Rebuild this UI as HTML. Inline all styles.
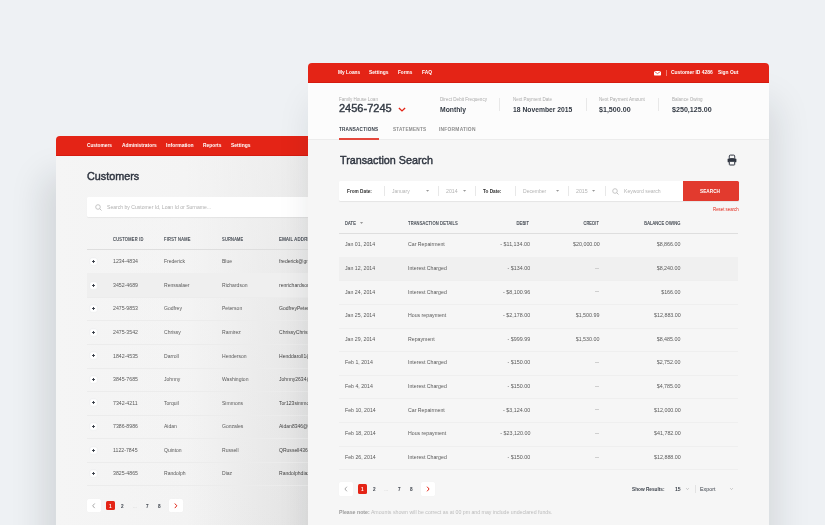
<!DOCTYPE html>
<html><head><meta charset="utf-8"><title>Loans</title>
<style>
*{box-sizing:border-box;margin:0;padding:0}
html,body{width:825px;height:525px;overflow:hidden}
body{background:#eef1f4;font-family:"Liberation Sans",sans-serif;position:relative;color:#555}
.a{position:absolute;white-space:nowrap;line-height:1}
.b{position:absolute}
.ic{position:absolute;overflow:visible}
.panel{position:absolute;border-radius:4px 4px 0 0;overflow:hidden}
#lp{left:56px;top:136px;width:270px;height:420px;background:#f3f3f3;box-shadow:-12px 40px 34px rgba(20,30,40,.13)}
#rp{left:308px;top:63px;width:461px;height:480px;background:#f6f6f6;box-shadow:6px 40px 36px rgba(20,30,40,.125)}
.hdr{position:absolute;left:0;top:0;right:0;height:20px;background:#e42416;border-bottom:1px solid #d51b10}
.lpbody{position:absolute;left:0;top:20px;right:0;bottom:0;background:linear-gradient(180deg,rgba(245,245,245,.55),rgba(245,245,245,0)),linear-gradient(90deg,#f5f5f5 0,#f3f3f3 130px,#e1e1e1 252px)}
.rptop{position:absolute;left:0;top:20px;right:0;height:57px;background:#fcfcfc;border-bottom:1px solid #ececec}
</style></head>
<body>
<div class="panel" id="lp"><div class="hdr"></div><div class="lpbody"></div></div>
<span class="a" style="top:143px;font-size:5.81px;color:#fff;font-weight:700;left:86.90px;transform:scaleX(0.824);transform-origin:0 50%;">Customers</span>
<span class="a" style="top:143px;font-size:5.81px;color:#fff;font-weight:700;left:121.50px;transform:scaleX(0.845);transform-origin:0 50%;">Administrators</span>
<span class="a" style="top:143px;font-size:5.81px;color:#fff;font-weight:700;left:165.80px;transform:scaleX(0.867);transform-origin:0 50%;">Information</span>
<span class="a" style="top:143px;font-size:5.81px;color:#fff;font-weight:700;left:202.80px;transform:scaleX(0.838);transform-origin:0 50%;">Reports</span>
<span class="a" style="top:143px;font-size:5.81px;color:#fff;font-weight:700;left:230.60px;transform:scaleX(0.855);transform-origin:0 50%;">Settings</span>
<span class="a" style="top:171px;font-size:11.34px;color:#2f3540;-webkit-text-stroke:0.45px #2f3540;left:87.20px;transform:scaleX(0.954);transform-origin:0 50%;">Customers</span>
<div class="b" style="left:87px;top:197px;width:240px;height:20px;background:#fff;box-shadow:0 1px 1px rgba(0,0,0,.06);border-radius:1.5px"></div>
<svg class="ic" style="left:94.6px;top:203.6px" width="7" height="7" viewBox="0 0 7 7"><circle cx="3" cy="3" r="2.3" fill="none" stroke="#b9b9b9" stroke-width=".8"/><path d="M4.7 4.7L6.5 6.5" stroke="#b9b9b9" stroke-width=".9"/></svg>
<span class="a" style="top:205px;font-size:5.38px;color:#b0b0b0;left:106.80px;transform:scaleX(0.946);transform-origin:0 50%;">Search by Customer Id, Loan Id or Surname...</span>
<span class="a" style="top:238px;font-size:4.51px;color:#3d434c;-webkit-text-stroke:0.15px #3d434c;letter-spacing:0.3px;left:112.80px;transform:scaleX(0.882);transform-origin:0 50%;">CUSTOMER ID</span>
<span class="a" style="top:238px;font-size:4.51px;color:#3d434c;-webkit-text-stroke:0.15px #3d434c;letter-spacing:0.3px;left:163.80px;transform:scaleX(0.883);transform-origin:0 50%;">FIRST NAME</span>
<span class="a" style="top:238px;font-size:4.51px;color:#3d434c;-webkit-text-stroke:0.15px #3d434c;letter-spacing:0.3px;left:222.00px;transform:scaleX(0.872);transform-origin:0 50%;">SURNAME</span>
<span class="a" style="top:238px;font-size:4.51px;color:#3d434c;-webkit-text-stroke:0.15px #3d434c;letter-spacing:0.3px;left:279.30px;transform:scaleX(0.950);transform-origin:0 50%;">EMAIL ADDRESS</span>
<div class="b" style="left:87px;top:249px;width:240px;height:1px;background:#dedede;"></div>
<div class="b" style="left:87px;top:273px;width:240px;height:1px;background:#ececec;"></div>
<svg class="ic" style="left:90px;top:258px" width="7" height="7" viewBox="0 0 7 7"><rect x="-.1" y="-.1" width="7.3" height="7.3" rx="2" fill="#fff" stroke="#e6e8eb" stroke-width=".5"/><path d="M2.1 3.5H4.9M3.5 2.1V4.9" stroke="#343a44" stroke-width="1"/></svg>
<span class="a" style="top:259px;font-size:5.81px;color:#5a5a5a;left:112.80px;transform:scaleX(0.900);transform-origin:0 50%;">1234-4834</span>
<span class="a" style="top:259px;font-size:5.81px;color:#5a5a5a;left:163.80px;transform:scaleX(0.870);transform-origin:0 50%;">Frederick</span>
<span class="a" style="top:259px;font-size:5.81px;color:#5a5a5a;left:222.00px;transform:scaleX(0.870);transform-origin:0 50%;">Blue</span>
<span class="a" style="top:259px;font-size:5.81px;color:#444;left:279.30px;transform:scaleX(0.870);transform-origin:0 50%;">frederick@gmail.com</span>
<div class="b" style="left:87px;top:273px;width:240px;height:24px;background:#efefef;"></div>
<div class="b" style="left:87px;top:297px;width:240px;height:1px;background:#ececec;"></div>
<svg class="ic" style="left:90px;top:282px" width="7" height="7" viewBox="0 0 7 7"><rect x="-.1" y="-.1" width="7.3" height="7.3" rx="2" fill="#fff" stroke="#e6e8eb" stroke-width=".5"/><path d="M2.1 3.5H4.9M3.5 2.1V4.9" stroke="#343a44" stroke-width="1"/></svg>
<span class="a" style="top:283px;font-size:5.81px;color:#5a5a5a;left:112.80px;transform:scaleX(0.900);transform-origin:0 50%;">3452-4689</span>
<span class="a" style="top:283px;font-size:5.81px;color:#5a5a5a;left:163.80px;transform:scaleX(0.870);transform-origin:0 50%;">Renssalaer</span>
<span class="a" style="top:283px;font-size:5.81px;color:#5a5a5a;left:222.00px;transform:scaleX(0.870);transform-origin:0 50%;">Richardson</span>
<span class="a" style="top:283px;font-size:5.81px;color:#444;left:279.30px;transform:scaleX(0.870);transform-origin:0 50%;">renrichardson@gmail.com</span>
<div class="b" style="left:87px;top:320px;width:240px;height:1px;background:#ececec;"></div>
<svg class="ic" style="left:90px;top:305px" width="7" height="7" viewBox="0 0 7 7"><rect x="-.1" y="-.1" width="7.3" height="7.3" rx="2" fill="#fff" stroke="#e6e8eb" stroke-width=".5"/><path d="M2.1 3.5H4.9M3.5 2.1V4.9" stroke="#343a44" stroke-width="1"/></svg>
<span class="a" style="top:306px;font-size:5.81px;color:#5a5a5a;left:112.80px;transform:scaleX(0.900);transform-origin:0 50%;">2475-9853</span>
<span class="a" style="top:306px;font-size:5.81px;color:#5a5a5a;left:163.80px;transform:scaleX(0.870);transform-origin:0 50%;">Godfrey</span>
<span class="a" style="top:306px;font-size:5.81px;color:#5a5a5a;left:222.00px;transform:scaleX(0.870);transform-origin:0 50%;">Peterson</span>
<span class="a" style="top:306px;font-size:5.81px;color:#444;left:279.30px;transform:scaleX(0.870);transform-origin:0 50%;">GodfreyPeterson@gmail.com</span>
<div class="b" style="left:87px;top:344px;width:240px;height:1px;background:#ececec;"></div>
<svg class="ic" style="left:90px;top:329px" width="7" height="7" viewBox="0 0 7 7"><rect x="-.1" y="-.1" width="7.3" height="7.3" rx="2" fill="#fff" stroke="#e6e8eb" stroke-width=".5"/><path d="M2.1 3.5H4.9M3.5 2.1V4.9" stroke="#343a44" stroke-width="1"/></svg>
<span class="a" style="top:330px;font-size:5.81px;color:#5a5a5a;left:112.80px;transform:scaleX(0.900);transform-origin:0 50%;">2475-3542</span>
<span class="a" style="top:330px;font-size:5.81px;color:#5a5a5a;left:163.80px;transform:scaleX(0.870);transform-origin:0 50%;">Chrissy</span>
<span class="a" style="top:330px;font-size:5.81px;color:#5a5a5a;left:222.00px;transform:scaleX(0.870);transform-origin:0 50%;">Ramirez</span>
<span class="a" style="top:330px;font-size:5.81px;color:#444;left:279.30px;transform:scaleX(0.870);transform-origin:0 50%;">ChrissyChrissy@gmail.com</span>
<div class="b" style="left:87px;top:368px;width:240px;height:1px;background:#ececec;"></div>
<svg class="ic" style="left:90px;top:352px" width="7" height="7" viewBox="0 0 7 7"><rect x="-.1" y="-.1" width="7.3" height="7.3" rx="2" fill="#fff" stroke="#e6e8eb" stroke-width=".5"/><path d="M2.1 3.5H4.9M3.5 2.1V4.9" stroke="#343a44" stroke-width="1"/></svg>
<span class="a" style="top:354px;font-size:5.81px;color:#5a5a5a;left:112.80px;transform:scaleX(0.900);transform-origin:0 50%;">1842-4535</span>
<span class="a" style="top:354px;font-size:5.81px;color:#5a5a5a;left:163.80px;transform:scaleX(0.870);transform-origin:0 50%;">Darroll</span>
<span class="a" style="top:354px;font-size:5.81px;color:#5a5a5a;left:222.00px;transform:scaleX(0.870);transform-origin:0 50%;">Henderson</span>
<span class="a" style="top:354px;font-size:5.81px;color:#444;left:279.30px;transform:scaleX(0.870);transform-origin:0 50%;">Henddaroll1@gmail.com</span>
<div class="b" style="left:87px;top:391px;width:240px;height:1px;background:#ececec;"></div>
<svg class="ic" style="left:90px;top:376px" width="7" height="7" viewBox="0 0 7 7"><rect x="-.1" y="-.1" width="7.3" height="7.3" rx="2" fill="#fff" stroke="#e6e8eb" stroke-width=".5"/><path d="M2.1 3.5H4.9M3.5 2.1V4.9" stroke="#343a44" stroke-width="1"/></svg>
<span class="a" style="top:377px;font-size:5.81px;color:#5a5a5a;left:112.80px;transform:scaleX(0.900);transform-origin:0 50%;">3845-7685</span>
<span class="a" style="top:377px;font-size:5.81px;color:#5a5a5a;left:163.80px;transform:scaleX(0.870);transform-origin:0 50%;">Johnny</span>
<span class="a" style="top:377px;font-size:5.81px;color:#5a5a5a;left:222.00px;transform:scaleX(0.870);transform-origin:0 50%;">Washington</span>
<span class="a" style="top:377px;font-size:5.81px;color:#444;left:279.30px;transform:scaleX(0.870);transform-origin:0 50%;">Johnny2634@gmail.com</span>
<div class="b" style="left:87px;top:415px;width:240px;height:1px;background:#ececec;"></div>
<svg class="ic" style="left:90px;top:399px" width="7" height="7" viewBox="0 0 7 7"><rect x="-.1" y="-.1" width="7.3" height="7.3" rx="2" fill="#fff" stroke="#e6e8eb" stroke-width=".5"/><path d="M2.1 3.5H4.9M3.5 2.1V4.9" stroke="#343a44" stroke-width="1"/></svg>
<span class="a" style="top:401px;font-size:5.81px;color:#5a5a5a;left:112.80px;transform:scaleX(0.900);transform-origin:0 50%;">7342-4211</span>
<span class="a" style="top:401px;font-size:5.81px;color:#5a5a5a;left:163.80px;transform:scaleX(0.870);transform-origin:0 50%;">Torquil</span>
<span class="a" style="top:401px;font-size:5.81px;color:#5a5a5a;left:222.00px;transform:scaleX(0.870);transform-origin:0 50%;">Simmons</span>
<span class="a" style="top:401px;font-size:5.81px;color:#444;left:279.30px;transform:scaleX(0.870);transform-origin:0 50%;">Tor123simmons@gmail.com</span>
<div class="b" style="left:87px;top:438px;width:240px;height:1px;background:#ececec;"></div>
<svg class="ic" style="left:90px;top:423px" width="7" height="7" viewBox="0 0 7 7"><rect x="-.1" y="-.1" width="7.3" height="7.3" rx="2" fill="#fff" stroke="#e6e8eb" stroke-width=".5"/><path d="M2.1 3.5H4.9M3.5 2.1V4.9" stroke="#343a44" stroke-width="1"/></svg>
<span class="a" style="top:424px;font-size:5.81px;color:#5a5a5a;left:112.80px;transform:scaleX(0.900);transform-origin:0 50%;">7386-8986</span>
<span class="a" style="top:424px;font-size:5.81px;color:#5a5a5a;left:163.80px;transform:scaleX(0.870);transform-origin:0 50%;">Aidan</span>
<span class="a" style="top:424px;font-size:5.81px;color:#5a5a5a;left:222.00px;transform:scaleX(0.870);transform-origin:0 50%;">Gonzales</span>
<span class="a" style="top:424px;font-size:5.81px;color:#444;left:279.30px;transform:scaleX(0.870);transform-origin:0 50%;">Aidan8346@gmail.com</span>
<div class="b" style="left:87px;top:462px;width:240px;height:1px;background:#ececec;"></div>
<svg class="ic" style="left:90px;top:447px" width="7" height="7" viewBox="0 0 7 7"><rect x="-.1" y="-.1" width="7.3" height="7.3" rx="2" fill="#fff" stroke="#e6e8eb" stroke-width=".5"/><path d="M2.1 3.5H4.9M3.5 2.1V4.9" stroke="#343a44" stroke-width="1"/></svg>
<span class="a" style="top:448px;font-size:5.81px;color:#5a5a5a;left:112.80px;transform:scaleX(0.900);transform-origin:0 50%;">1122-7845</span>
<span class="a" style="top:448px;font-size:5.81px;color:#5a5a5a;left:163.80px;transform:scaleX(0.870);transform-origin:0 50%;">Quinton</span>
<span class="a" style="top:448px;font-size:5.81px;color:#5a5a5a;left:222.00px;transform:scaleX(0.870);transform-origin:0 50%;">Russell</span>
<span class="a" style="top:448px;font-size:5.81px;color:#444;left:279.30px;transform:scaleX(0.870);transform-origin:0 50%;">QRussell436@gmail.com</span>
<div class="b" style="left:87px;top:485px;width:240px;height:1px;background:#ececec;"></div>
<svg class="ic" style="left:90px;top:470px" width="7" height="7" viewBox="0 0 7 7"><rect x="-.1" y="-.1" width="7.3" height="7.3" rx="2" fill="#fff" stroke="#e6e8eb" stroke-width=".5"/><path d="M2.1 3.5H4.9M3.5 2.1V4.9" stroke="#343a44" stroke-width="1"/></svg>
<span class="a" style="top:471px;font-size:5.81px;color:#5a5a5a;left:112.80px;transform:scaleX(0.900);transform-origin:0 50%;">3825-4865</span>
<span class="a" style="top:471px;font-size:5.81px;color:#5a5a5a;left:163.80px;transform:scaleX(0.870);transform-origin:0 50%;">Randolph</span>
<span class="a" style="top:471px;font-size:5.81px;color:#5a5a5a;left:222.00px;transform:scaleX(0.870);transform-origin:0 50%;">Diaz</span>
<span class="a" style="top:471px;font-size:5.81px;color:#444;left:279.30px;transform:scaleX(0.870);transform-origin:0 50%;">Randolphdiaz@gmail.com</span>
<div class="b" style="left:87px;top:498.9px;width:13.5px;height:13.5px;background:#fff;border-radius:1.5px;box-shadow:0 0 1px rgba(0,0,0,.06)"></div>
<svg class="ic" style="left:87px;top:498.9px" width="13.5" height="13.5" viewBox="0 0 13.5 13.5"><path d="M7.7 4.5L5.7 6.8L7.7 9.1" fill="none" stroke="#999" stroke-width=".85"/></svg>
<div class="b" style="left:105.7px;top:501.04999999999995px;width:9.2px;height:9.2px;background:#e42416;border-radius:1.5px"></div>
<span class="a" style="top:504px;font-size:5.23px;color:#fff;font-weight:700;left:109.20px;transform:scaleX(0.900);transform-origin:0 50%;">1</span>
<span class="a" style="top:504px;font-size:5.23px;color:#3d434c;font-weight:700;left:121.20px;transform:scaleX(0.900);transform-origin:0 50%;">2</span>
<span class="a" style="top:505px;font-size:4.6px;color:#c4c4c4;left:133.00px;">...</span>
<span class="a" style="top:504px;font-size:5.23px;color:#3d434c;font-weight:700;left:145.90px;transform:scaleX(0.900);transform-origin:0 50%;">7</span>
<span class="a" style="top:504px;font-size:5.23px;color:#3d434c;font-weight:700;left:158.00px;transform:scaleX(0.900);transform-origin:0 50%;">8</span>
<div class="b" style="left:169px;top:498.9px;width:13.5px;height:13.5px;background:#fff;border-radius:1.5px;box-shadow:0 0 1px rgba(0,0,0,.06)"></div>
<svg class="ic" style="left:169px;top:498.9px" width="13.5" height="13.5" viewBox="0 0 13.5 13.5"><path d="M5.8 4.5L7.8 6.8L5.8 9.1" fill="none" stroke="#e42416" stroke-width="1"/></svg>
<div class="panel" id="rp"><div class="hdr"></div><div class="rptop"></div></div>
<span class="a" style="top:70px;font-size:5.96px;color:#fff;font-weight:700;left:337.90px;transform:scaleX(0.808);transform-origin:0 50%;">My Loans</span>
<span class="a" style="top:70px;font-size:5.96px;color:#fff;font-weight:700;left:369.30px;transform:scaleX(0.825);transform-origin:0 50%;">Settings</span>
<span class="a" style="top:70px;font-size:5.96px;color:#fff;font-weight:700;left:398.00px;transform:scaleX(0.785);transform-origin:0 50%;">Forms</span>
<span class="a" style="top:70px;font-size:5.96px;color:#fff;font-weight:700;left:422.00px;transform:scaleX(0.816);transform-origin:0 50%;">FAQ</span>
<span class="a" style="top:70px;font-size:5.96px;color:#fff;font-weight:700;left:671.00px;transform:scaleX(0.832);transform-origin:0 50%;">Customer ID 4286</span>
<span class="a" style="top:70px;font-size:5.96px;color:#fff;font-weight:700;left:718.00px;transform:scaleX(0.818);transform-origin:0 50%;">Sign Out</span>
<svg class="ic" style="left:653.5px;top:70.8px" width="7" height="4.4" viewBox="0 0 7 4.4"><rect x="0" y="0" width="7" height="4.4" rx=".6" fill="#fff"/><path d="M0.2 0.3L3.5 2.6L6.8 0.3" fill="none" stroke="#e42416" stroke-width=".7"/></svg>
<div class="b" style="left:665.5px;top:70px;width:0.7px;height:5.5px;background:rgba(255,255,255,.4);"></div>
<span class="a" style="top:98px;font-size:4.8px;color:#ababab;left:338.90px;transform:scaleX(0.941);transform-origin:0 50%;">Family House Loan</span>
<span class="a" style="top:103px;font-size:10.76px;color:#333a44;-webkit-text-stroke:0.4px #333a44;left:339.30px;transform:scaleX(1.024);transform-origin:0 50%;">2456-7245</span>
<svg class="ic" style="left:397.5px;top:107.2px" width="8" height="5" viewBox="0 0 8 5"><path d="M0.9 0.9L4 3.9L7.1 0.9" fill="none" stroke="#e42416" stroke-width="1.35"/></svg>
<span class="a" style="top:98px;font-size:4.8px;color:#ababab;left:439.70px;transform:scaleX(0.958);transform-origin:0 50%;">Direct Debit Frequency</span>
<span class="a" style="top:107px;font-size:6.83px;color:#333a44;font-weight:700;left:440.00px;transform:scaleX(0.993);transform-origin:0 50%;">Monthly</span>
<div class="b" style="left:499.3px;top:98px;width:0.7px;height:13px;background:#e8e8e8;"></div>
<span class="a" style="top:98px;font-size:4.8px;color:#ababab;left:513.30px;transform:scaleX(0.937);transform-origin:0 50%;">Next Payment Date</span>
<span class="a" style="top:107px;font-size:6.83px;color:#333a44;font-weight:700;left:513.30px;transform:scaleX(0.990);transform-origin:0 50%;">18 November 2015</span>
<div class="b" style="left:585.5px;top:98px;width:0.7px;height:13px;background:#e8e8e8;"></div>
<span class="a" style="top:98px;font-size:4.8px;color:#ababab;left:599.20px;transform:scaleX(0.959);transform-origin:0 50%;">Next Payment Amount</span>
<span class="a" style="top:107px;font-size:6.83px;color:#333a44;font-weight:700;left:599.20px;transform:scaleX(1.040);transform-origin:0 50%;">$1,500.00</span>
<div class="b" style="left:657.7px;top:98px;width:0.7px;height:13px;background:#e8e8e8;"></div>
<span class="a" style="top:98px;font-size:4.8px;color:#ababab;left:671.70px;transform:scaleX(0.948);transform-origin:0 50%;">Balance Owing</span>
<span class="a" style="top:107px;font-size:6.83px;color:#333a44;font-weight:700;left:671.70px;transform:scaleX(1.043);transform-origin:0 50%;">$250,125.00</span>
<span class="a" style="top:127px;font-size:5.52px;color:#333a44;font-weight:700;letter-spacing:0.25px;left:339.00px;transform:scaleX(0.841);transform-origin:0 50%;">TRANSACTIONS</span>
<span class="a" style="top:127px;font-size:5.52px;color:#8c8c8c;font-weight:700;letter-spacing:0.25px;left:392.90px;transform:scaleX(0.854);transform-origin:0 50%;">STATEMENTS</span>
<span class="a" style="top:127px;font-size:5.52px;color:#8c8c8c;font-weight:700;letter-spacing:0.25px;left:439.30px;transform:scaleX(0.889);transform-origin:0 50%;">INFORMATION</span>
<div class="b" style="left:338.8px;top:138px;width:40px;height:2px;background:#e4473c;"></div>
<span class="a" style="top:154px;font-size:11.63px;color:#2f3540;-webkit-text-stroke:0.45px #2f3540;left:339.50px;transform:scaleX(0.926);transform-origin:0 50%;">Transaction Search</span>
<svg class="ic" style="left:726.5px;top:153.5px" width="10" height="12" viewBox="0 0 10 12"><rect x="2.3" y="1.1" width="5.4" height="3.6" rx="1" fill="none" stroke="#2f3540" stroke-width="1"/><rect x="0.6" y="4.5" width="8.8" height="3.8" rx="0.9" fill="#2f3540"/><rect x="2.3" y="7.3" width="5.4" height="3.7" rx="0.6" fill="#f6f6f6" stroke="#2f3540" stroke-width="1"/></svg>
<div class="b" style="left:339px;top:181px;width:400px;height:20px;background:#fff;box-shadow:0 1px 1px rgba(0,0,0,.07);border-radius:1.5px"></div>
<span class="a" style="top:189px;font-size:5.81px;color:#333;font-weight:700;left:347.00px;transform:scaleX(0.815);transform-origin:0 50%;">From Date:</span>
<div class="b" style="left:383.5px;top:186px;width:0.7px;height:10px;background:#e8e8e8;"></div>
<div class="b" style="left:437.8px;top:186px;width:0.7px;height:10px;background:#e8e8e8;"></div>
<div class="b" style="left:475.1px;top:186px;width:0.7px;height:10px;background:#e8e8e8;"></div>
<div class="b" style="left:514.9px;top:186px;width:0.7px;height:10px;background:#e8e8e8;"></div>
<div class="b" style="left:567.8px;top:186px;width:0.7px;height:10px;background:#e8e8e8;"></div>
<div class="b" style="left:604.7px;top:186px;width:0.7px;height:10px;background:#e8e8e8;"></div>
<span class="a" style="top:189px;font-size:5.81px;color:#b4b4b4;left:391.90px;transform:scaleX(0.861);transform-origin:0 50%;">January</span>
<span class="a" style="top:189px;font-size:5.81px;color:#b4b4b4;left:446.20px;transform:scaleX(0.905);transform-origin:0 50%;">2014</span>
<span class="a" style="top:189px;font-size:5.81px;color:#333;font-weight:700;left:483.40px;transform:scaleX(0.807);transform-origin:0 50%;">To Date:</span>
<span class="a" style="top:189px;font-size:5.81px;color:#b4b4b4;left:522.90px;transform:scaleX(0.869);transform-origin:0 50%;">December</span>
<span class="a" style="top:189px;font-size:5.81px;color:#b4b4b4;left:576.10px;transform:scaleX(0.905);transform-origin:0 50%;">2015</span>
<svg class="ic" style="left:426.09999999999997px;top:190px" width="3.2" height="2" viewBox="0 0 3.2 2"><path d="M0 0H3.2L1.6 1.8Z" fill="#999"/></svg>
<svg class="ic" style="left:462.9px;top:190px" width="3.2" height="2" viewBox="0 0 3.2 2"><path d="M0 0H3.2L1.6 1.8Z" fill="#999"/></svg>
<svg class="ic" style="left:555.8px;top:190px" width="3.2" height="2" viewBox="0 0 3.2 2"><path d="M0 0H3.2L1.6 1.8Z" fill="#999"/></svg>
<svg class="ic" style="left:592.3px;top:190px" width="3.2" height="2" viewBox="0 0 3.2 2"><path d="M0 0H3.2L1.6 1.8Z" fill="#999"/></svg>
<svg class="ic" style="left:612.3px;top:187.7px" width="7" height="7" viewBox="0 0 7 7"><circle cx="3" cy="3" r="2.3" fill="none" stroke="#b9b9b9" stroke-width=".8"/><path d="M4.7 4.7L6.5 6.5" stroke="#b9b9b9" stroke-width=".9"/></svg>
<span class="a" style="top:189px;font-size:5.81px;color:#b4b4b4;left:624.20px;transform:scaleX(0.883);transform-origin:0 50%;">Keyword search</span>
<div class="b" style="left:682.5px;top:181px;width:56px;height:20px;background:#e23a2e;border-radius:0 1.5px 1.5px 0"></div>
<span class="a" style="top:189px;font-size:5.81px;color:#fff;font-weight:700;left:700.40px;transform:scaleX(0.815);transform-origin:0 50%;">SEARCH</span>
<span class="a" style="top:208px;font-size:4.94px;color:#e42416;left:713.10px;transform:scaleX(0.880);transform-origin:0 50%;">Reset search</span>
<span class="a" style="top:222px;font-size:4.51px;color:#3d434c;-webkit-text-stroke:0.15px #3d434c;letter-spacing:0.2px;left:344.90px;transform:scaleX(0.888);transform-origin:0 50%;">DATE</span>
<svg class="ic" style="left:360.2px;top:221.9px" width="3.1" height="2" viewBox="0 0 3.1 2"><path d="M0 0H3.1L1.55 2Z" fill="#999"/></svg>
<span class="a" style="top:222px;font-size:4.51px;color:#3d434c;-webkit-text-stroke:0.15px #3d434c;letter-spacing:0.2px;left:407.60px;transform:scaleX(0.894);transform-origin:0 50%;">TRANSACTION DETAILS</span>
<span class="a" style="top:222px;font-size:4.51px;color:#3d434c;-webkit-text-stroke:0.15px #3d434c;letter-spacing:0.2px;right:295.50px;transform:scaleX(0.903);transform-origin:100% 50%;">DEBIT</span>
<span class="a" style="top:222px;font-size:4.51px;color:#3d434c;-webkit-text-stroke:0.15px #3d434c;letter-spacing:0.2px;right:226.40px;transform:scaleX(0.867);transform-origin:100% 50%;">CREDIT</span>
<span class="a" style="top:222px;font-size:4.51px;color:#3d434c;-webkit-text-stroke:0.15px #3d434c;letter-spacing:0.2px;right:144.30px;transform:scaleX(0.895);transform-origin:100% 50%;">BALANCE OWING</span>
<div class="b" style="left:339px;top:233px;width:399px;height:1px;background:#dedede;"></div>
<div class="b" style="left:339px;top:257px;width:399px;height:1px;background:#efefef;"></div>
<span class="a" style="top:242px;font-size:5.96px;color:#5a5a5a;left:344.80px;transform:scaleX(0.875);transform-origin:0 50%;">Jan 01, 2014</span>
<span class="a" style="top:242px;font-size:5.96px;color:#5a5a5a;left:407.60px;transform:scaleX(0.875);transform-origin:0 50%;">Car Repairment</span>
<span class="a" style="top:242px;font-size:5.96px;color:#5a5a5a;right:295.00px;transform:scaleX(0.900);transform-origin:100% 50%;">- $11,134.00</span>
<span class="a" style="top:242px;font-size:5.96px;color:#5a5a5a;right:225.50px;transform:scaleX(0.900);transform-origin:100% 50%;">$20,000.00</span>
<span class="a" style="top:242px;font-size:5.96px;color:#5a5a5a;right:144.30px;transform:scaleX(0.900);transform-origin:100% 50%;">$8,866.00</span>
<div class="b" style="left:339px;top:257px;width:399px;height:24px;background:#f0f0f0;"></div>
<div class="b" style="left:339px;top:280px;width:399px;height:1px;background:#efefef;"></div>
<span class="a" style="top:266px;font-size:5.96px;color:#5a5a5a;left:344.80px;transform:scaleX(0.875);transform-origin:0 50%;">Jan 12, 2014</span>
<span class="a" style="top:266px;font-size:5.96px;color:#5a5a5a;left:407.60px;transform:scaleX(0.875);transform-origin:0 50%;">Interest Charged</span>
<span class="a" style="top:266px;font-size:5.96px;color:#5a5a5a;right:295.00px;transform:scaleX(0.900);transform-origin:100% 50%;">- $134.00</span>
<div class="b" style="left:595.3px;top:268.2px;width:3.8px;height:0.6px;background:#cfcfcf;"></div>
<span class="a" style="top:266px;font-size:5.96px;color:#5a5a5a;right:144.30px;transform:scaleX(0.900);transform-origin:100% 50%;">$8,240.00</span>
<div class="b" style="left:339px;top:304px;width:399px;height:1px;background:#efefef;"></div>
<span class="a" style="top:290px;font-size:5.96px;color:#5a5a5a;left:344.80px;transform:scaleX(0.875);transform-origin:0 50%;">Jan 24, 2014</span>
<span class="a" style="top:290px;font-size:5.96px;color:#5a5a5a;left:407.60px;transform:scaleX(0.875);transform-origin:0 50%;">Interest Charged</span>
<span class="a" style="top:290px;font-size:5.96px;color:#5a5a5a;right:295.00px;transform:scaleX(0.900);transform-origin:100% 50%;">- $8,100.96</span>
<div class="b" style="left:595.3px;top:291.2px;width:3.8px;height:0.6px;background:#cfcfcf;"></div>
<span class="a" style="top:290px;font-size:5.96px;color:#5a5a5a;right:144.30px;transform:scaleX(0.900);transform-origin:100% 50%;">$166.00</span>
<div class="b" style="left:339px;top:328px;width:399px;height:1px;background:#efefef;"></div>
<span class="a" style="top:313px;font-size:5.96px;color:#5a5a5a;left:344.80px;transform:scaleX(0.875);transform-origin:0 50%;">Jan 25, 2014</span>
<span class="a" style="top:313px;font-size:5.96px;color:#5a5a5a;left:407.60px;transform:scaleX(0.875);transform-origin:0 50%;">Hous repayment</span>
<span class="a" style="top:313px;font-size:5.96px;color:#5a5a5a;right:295.00px;transform:scaleX(0.900);transform-origin:100% 50%;">- $2,178.00</span>
<span class="a" style="top:313px;font-size:5.96px;color:#5a5a5a;right:225.50px;transform:scaleX(0.900);transform-origin:100% 50%;">$1,500.99</span>
<span class="a" style="top:313px;font-size:5.96px;color:#5a5a5a;right:144.30px;transform:scaleX(0.900);transform-origin:100% 50%;">$12,883.00</span>
<div class="b" style="left:339px;top:351px;width:399px;height:1px;background:#efefef;"></div>
<span class="a" style="top:337px;font-size:5.96px;color:#5a5a5a;left:344.80px;transform:scaleX(0.875);transform-origin:0 50%;">Jan 29, 2014</span>
<span class="a" style="top:337px;font-size:5.96px;color:#5a5a5a;left:407.60px;transform:scaleX(0.875);transform-origin:0 50%;">Repayment</span>
<span class="a" style="top:337px;font-size:5.96px;color:#5a5a5a;right:295.00px;transform:scaleX(0.900);transform-origin:100% 50%;">- $999.99</span>
<span class="a" style="top:337px;font-size:5.96px;color:#5a5a5a;right:225.50px;transform:scaleX(0.900);transform-origin:100% 50%;">$1,530.00</span>
<span class="a" style="top:337px;font-size:5.96px;color:#5a5a5a;right:144.30px;transform:scaleX(0.900);transform-origin:100% 50%;">$8,485.00</span>
<div class="b" style="left:339px;top:375px;width:399px;height:1px;background:#efefef;"></div>
<span class="a" style="top:360px;font-size:5.96px;color:#5a5a5a;left:344.80px;transform:scaleX(0.875);transform-origin:0 50%;">Feb 1, 2014</span>
<span class="a" style="top:360px;font-size:5.96px;color:#5a5a5a;left:407.60px;transform:scaleX(0.875);transform-origin:0 50%;">Interest Charged</span>
<span class="a" style="top:360px;font-size:5.96px;color:#5a5a5a;right:295.00px;transform:scaleX(0.900);transform-origin:100% 50%;">- $150.00</span>
<div class="b" style="left:595.3px;top:362.2px;width:3.8px;height:0.6px;background:#cfcfcf;"></div>
<span class="a" style="top:360px;font-size:5.96px;color:#5a5a5a;right:144.30px;transform:scaleX(0.900);transform-origin:100% 50%;">$2,752.00</span>
<div class="b" style="left:339px;top:398px;width:399px;height:1px;background:#efefef;"></div>
<span class="a" style="top:384px;font-size:5.96px;color:#5a5a5a;left:344.80px;transform:scaleX(0.875);transform-origin:0 50%;">Feb 4, 2014</span>
<span class="a" style="top:384px;font-size:5.96px;color:#5a5a5a;left:407.60px;transform:scaleX(0.875);transform-origin:0 50%;">Interest Charged</span>
<span class="a" style="top:384px;font-size:5.96px;color:#5a5a5a;right:295.00px;transform:scaleX(0.900);transform-origin:100% 50%;">- $150.00</span>
<div class="b" style="left:595.3px;top:386.2px;width:3.8px;height:0.6px;background:#cfcfcf;"></div>
<span class="a" style="top:384px;font-size:5.96px;color:#5a5a5a;right:144.30px;transform:scaleX(0.900);transform-origin:100% 50%;">$4,785.00</span>
<div class="b" style="left:339px;top:422px;width:399px;height:1px;background:#efefef;"></div>
<span class="a" style="top:408px;font-size:5.96px;color:#5a5a5a;left:344.80px;transform:scaleX(0.875);transform-origin:0 50%;">Feb 10, 2014</span>
<span class="a" style="top:408px;font-size:5.96px;color:#5a5a5a;left:407.60px;transform:scaleX(0.875);transform-origin:0 50%;">Car Repairment</span>
<span class="a" style="top:408px;font-size:5.96px;color:#5a5a5a;right:295.00px;transform:scaleX(0.900);transform-origin:100% 50%;">- $3,124.00</span>
<div class="b" style="left:595.3px;top:409.2px;width:3.8px;height:0.6px;background:#cfcfcf;"></div>
<span class="a" style="top:408px;font-size:5.96px;color:#5a5a5a;right:144.30px;transform:scaleX(0.900);transform-origin:100% 50%;">$12,000.00</span>
<div class="b" style="left:339px;top:446px;width:399px;height:1px;background:#efefef;"></div>
<span class="a" style="top:431px;font-size:5.96px;color:#5a5a5a;left:344.80px;transform:scaleX(0.875);transform-origin:0 50%;">Feb 18, 2014</span>
<span class="a" style="top:431px;font-size:5.96px;color:#5a5a5a;left:407.60px;transform:scaleX(0.875);transform-origin:0 50%;">Hous repayment</span>
<span class="a" style="top:431px;font-size:5.96px;color:#5a5a5a;right:295.00px;transform:scaleX(0.900);transform-origin:100% 50%;">- $23,120.00</span>
<div class="b" style="left:595.3px;top:433.2px;width:3.8px;height:0.6px;background:#cfcfcf;"></div>
<span class="a" style="top:431px;font-size:5.96px;color:#5a5a5a;right:144.30px;transform:scaleX(0.900);transform-origin:100% 50%;">$41,782.00</span>
<div class="b" style="left:339px;top:469px;width:399px;height:1px;background:#efefef;"></div>
<span class="a" style="top:455px;font-size:5.96px;color:#5a5a5a;left:344.80px;transform:scaleX(0.875);transform-origin:0 50%;">Feb 26, 2014</span>
<span class="a" style="top:455px;font-size:5.96px;color:#5a5a5a;left:407.60px;transform:scaleX(0.875);transform-origin:0 50%;">Interest Charged</span>
<span class="a" style="top:455px;font-size:5.96px;color:#5a5a5a;right:295.00px;transform:scaleX(0.900);transform-origin:100% 50%;">- $150.00</span>
<div class="b" style="left:595.3px;top:457.2px;width:3.8px;height:0.6px;background:#cfcfcf;"></div>
<span class="a" style="top:455px;font-size:5.96px;color:#5a5a5a;right:144.30px;transform:scaleX(0.900);transform-origin:100% 50%;">$12,888.00</span>
<div class="b" style="left:339px;top:482px;width:14px;height:14px;background:#fff;border-radius:1.5px;box-shadow:0 0 1px rgba(0,0,0,.06)"></div>
<svg class="ic" style="left:339px;top:482px" width="14" height="14" viewBox="0 0 14 14"><path d="M7.9 4.7L5.9 7.0L7.9 9.3" fill="none" stroke="#999" stroke-width=".85"/></svg>
<div class="b" style="left:357.7px;top:484.35px;width:9.3px;height:9.3px;background:#e42416;border-radius:1.5px"></div>
<span class="a" style="top:487px;font-size:5.23px;color:#fff;font-weight:700;left:361.25px;transform:scaleX(0.900);transform-origin:0 50%;">1</span>
<span class="a" style="top:487px;font-size:5.23px;color:#3d434c;font-weight:700;left:373.30px;transform:scaleX(0.900);transform-origin:0 50%;">2</span>
<span class="a" style="top:488px;font-size:4.6px;color:#c4c4c4;left:384.30px;">...</span>
<span class="a" style="top:487px;font-size:5.23px;color:#3d434c;font-weight:700;left:398.00px;transform:scaleX(0.900);transform-origin:0 50%;">7</span>
<span class="a" style="top:487px;font-size:5.23px;color:#3d434c;font-weight:700;left:410.10px;transform:scaleX(0.900);transform-origin:0 50%;">8</span>
<div class="b" style="left:421px;top:482px;width:14px;height:14px;background:#fff;border-radius:1.5px;box-shadow:0 0 1px rgba(0,0,0,.06)"></div>
<svg class="ic" style="left:421px;top:482px" width="14" height="14" viewBox="0 0 14 14"><path d="M6.1 4.7L8.1 7.0L6.1 9.3" fill="none" stroke="#e42416" stroke-width="1"/></svg>
<span class="a" style="top:487px;font-size:5.81px;color:#3d434c;font-weight:700;left:632.10px;transform:scaleX(0.814);transform-origin:0 50%;">Show Results:</span>
<span class="a" style="top:487px;font-size:5.81px;color:#3d434c;font-weight:700;left:674.50px;transform:scaleX(0.882);transform-origin:0 50%;">15</span>
<svg class="ic" style="left:685.6px;top:488.2px" width="3" height="2" viewBox="0 0 3 2"><path d="M0.2 0.2L1.5 1.6L2.8 0.2" fill="none" stroke="#a0a0a0" stroke-width=".55"/></svg>
<div class="b" style="left:694.5px;top:484.8px;width:0.7px;height:8.2px;background:#e2e2e2;"></div>
<span class="a" style="top:487px;font-size:5.81px;color:#3d434c;left:700.30px;transform:scaleX(0.923);transform-origin:0 50%;">Export</span>
<svg class="ic" style="left:729.5px;top:488.2px" width="3" height="2" viewBox="0 0 3 2"><path d="M0.2 0.2L1.5 1.6L2.8 0.2" fill="none" stroke="#a0a0a0" stroke-width=".55"/></svg>
<span class="a" style="left:338.5px;top:510px;font-size:5.23px;color:#bcbcbc;transform:scaleX(0.999);transform-origin:0 50%"><b style="color:#9a9a9a">Please note:</b> Amounts shown will be correct as at 00 pm and may include undeclared funds.</span>
</body></html>
